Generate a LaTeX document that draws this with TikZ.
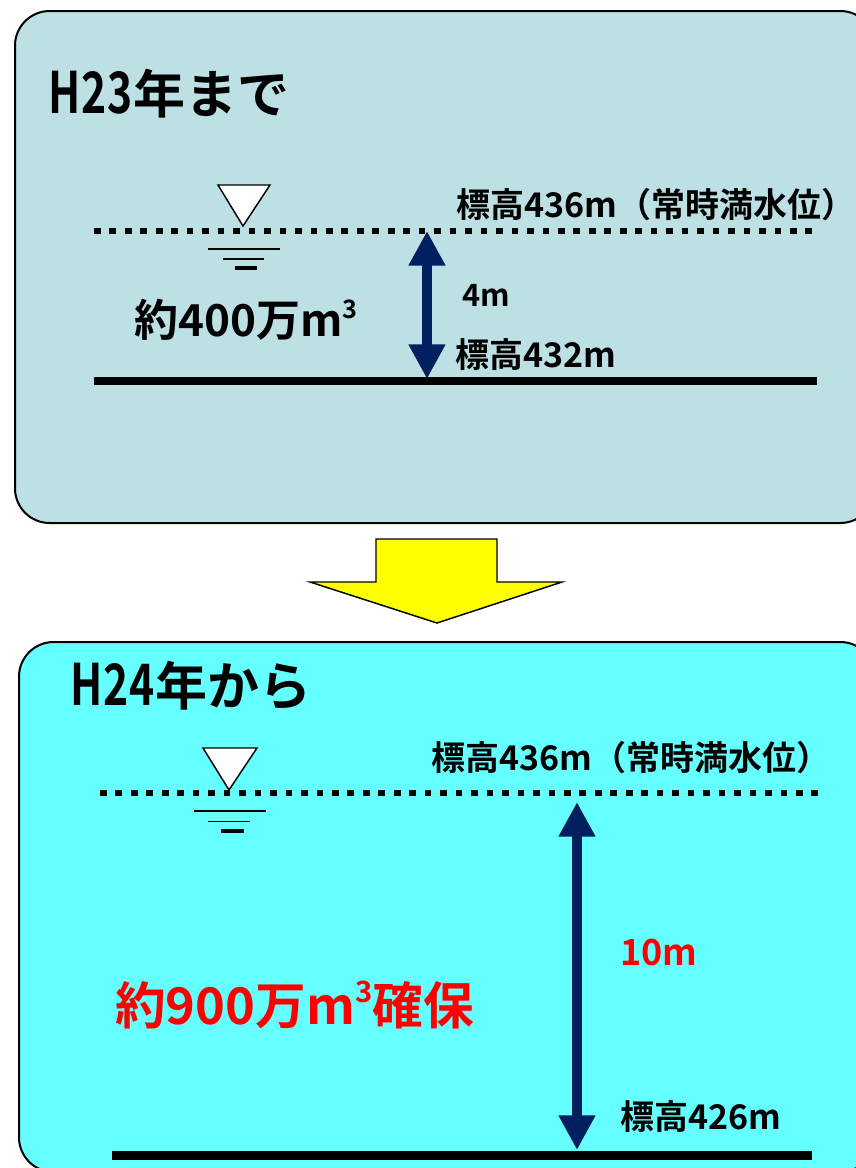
\documentclass[tikz,border=0pt]{standalone}
\usepackage{fontspec}
\usepackage{graphicx}
\setmainfont{Noto Sans CJK JP}[BoldFont={* Bold}]
\usetikzlibrary{arrows.meta}
\definecolor{boxA}{RGB}{188,224,227}
\definecolor{boxB}{RGB}{102,255,255}
\definecolor{navy}{RGB}{0,32,96}
\definecolor{arrowyellow}{RGB}{255,255,0}
\definecolor{textred}{RGB}{255,0,0}
\newcommand\myCube[1]{\raisebox{0.42em}{\fontsize{#1}{#1}\selectfont 3}}
\tikzset{
  panel/.style={draw=black, line width=1.5pt, rounded corners=26pt, inner sep=0pt},
  ttl/.style={inner sep=0pt, anchor=west, font=\bfseries\fontsize{39pt}{40pt}\selectfont},
  lbl/.style={inner sep=0pt, anchor=west, font=\bfseries\fontsize{25.5pt}{26pt}\selectfont},
  vol/.style={inner sep=0pt, anchor=west, font=\bfseries\fontsize{33pt}{34pt}\selectfont},
  surface/.style={line width=5pt, dash pattern=on 5pt off 6.6pt},
  bed/.style={line width=6.3pt},
  marker/.style={draw=black, fill=white, line width=1.1pt, line join=miter},
  ripple/.style={line width=1.2pt},
  depth/.style={draw=navy, line width=7.5pt,
    {Triangle[length=26pt,width=26pt]}-{Triangle[length=26pt,width=26pt]}},
}
\begin{document}
\begin{tikzpicture}[x=0.75pt,y=-0.75pt]
\useasboundingbox (0,0) rectangle (856,1168);
\fill[white] (0,0) rectangle (856,1168);
\begin{scope}
\clip (0,0) rectangle (856,1168);
\node[panel, fill=boxA, minimum width=645pt, minimum height=384pt] (p1) at (445,267) {};
\node[panel, fill=boxB, minimum width=642pt, minimum height=397.5pt] (p2) at (447,907) {};
\end{scope}

% transition arrow
\draw[fill=arrowyellow, draw=black, line width=1.1pt, line join=miter]
  (376,539) -- (497,539) -- (497,582) -- (562,582) -- (437,623) -- (310,582) -- (376,582) -- cycle;

% ---------- panel 1 ----------
\node[ttl] (t1) at (48,94) {\scalebox{0.82}[1.1]{H\kern1pt2\kern1pt3}年まで};
\coordinate (s1l) at (94,231);
\coordinate (s1r) at (817,231);
\coordinate (b1l) at (94,381);
\coordinate (b1r) at (817,381);
\draw[surface] (s1l) -- (s1r);
\draw[bed] (b1l) -- (b1r);
\draw[marker] (218,185) -- (270,185) -- (243,226) -- cycle;
\draw[ripple] (208,249) -- (280,249);
\draw[ripple] (223,259) -- (264,259);
\draw[line width=2.4pt] (235,268) -- (257,268);
\coordinate (a1t) at (427,231);
\coordinate (a1b) at (427,379);
\draw[depth] (a1t) -- (a1b);
\node[lbl] (h1) at (456,205) {標高436m（常時満水位）};
\node[lbl, font=\bfseries\fontsize{23pt}{24pt}\selectfont] (d1) at (462,295) {4m};
\node[lbl] (l1) at (455,355) {標高432m};
\node[vol] (v1) at (134,320) {約400万m\myCube{19pt}};

% ---------- panel 2 ----------
\node[ttl] (t2) at (70,686) {\scalebox{0.82}[1.1]{H\kern1pt2\kern1pt4}年から};
\coordinate (s2l) at (100,793);
\coordinate (s2r) at (821,793);
\coordinate (b2l) at (112,1155);
\coordinate (b2r) at (812,1155);
\draw[surface] (s2l) -- (s2r);
\draw[bed, line width=6.75pt] (b2l) -- (b2r);
\draw[marker] (203,748) -- (257,748) -- (229,790) -- cycle;
\draw[ripple] (194,811) -- (266,811);
\draw[ripple] (208,821.5) -- (250,821.5);
\draw[line width=2.4pt] (221,831) -- (244,831);
\coordinate (a2t) at (577,802);
\coordinate (a2b) at (577,1150);
\draw[depth] (a2t) -- (a2b);
\node[lbl] (h2) at (431,758) {標高436m（常時満水位）};
\node[lbl, text=textred, font=\bfseries\fontsize{27pt}{28pt}\selectfont] (d2) at (620,953) {10m};
\node[lbl] (l2) at (620,1117) {標高426m};
\node[vol, text=textred, font=\bfseries\fontsize{38pt}{39pt}\selectfont] (v2) at (115,1005) {約900万m\myCube{22pt}確保};
\end{tikzpicture}
\end{document}
